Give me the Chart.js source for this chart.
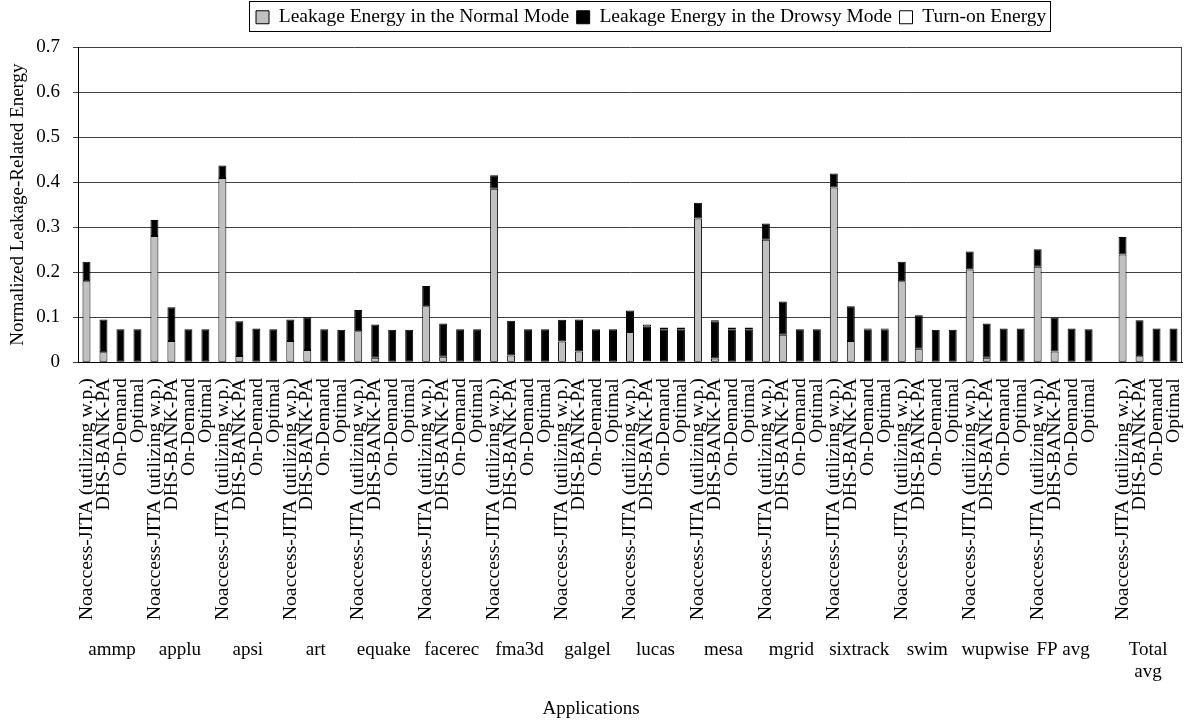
<!DOCTYPE html>
<html>
<head>
<meta charset="utf-8">
<title>Normalized Leakage-Related Energy</title>
<script src="https://cdn.jsdelivr.net/npm/chart.js@4.4.1/dist/chart.umd.min.js"></script>
<style>
  body { margin: 0; background: #fff; }
  canvas { display: block; }
</style>
</head>
<body>
<canvas id="chart" width="1189" height="722"></canvas>
<script>
// === DATA ===
const apps = ['ammp', 'applu', 'apsi', 'art', 'equake', 'facerec', 'fma3d', 'galgel',
  'lucas', 'mesa', 'mgrid', 'sixtrack', 'swim', 'wupwise', 'FP avg', ['Total', 'avg']];
const schemes = ['Noaccess-JITA (utilizing w.p.)', 'DHS-BANK-PA', 'On-Demand', 'Optimal'];
const seriesNames = ['Leakage Energy in the Normal Mode', 'Leakage Energy in the Drowsy Mode', 'Turn-on Energy'];

// four values per application, in the order of schemes
const normalMode = [
  0.180, 0.022, 0, 0,   // ammp
  0.280, 0.047, 0, 0,   // applu
  0.409, 0.014, 0, 0,   // apsi
  0.047, 0.027, 0, 0,   // art
  0.069, 0.010, 0, 0,   // equake
  0.124, 0.012, 0, 0,   // facerec
  0.385, 0.015, 0, 0,   // fma3d
  0.046, 0.024, 0, 0,   // galgel
  0.067, 0.002, 0, 0,   // lucas
  0.319, 0.008, 0, 0,   // mesa
  0.272, 0.061, 0, 0,   // mgrid
  0.388, 0.047, 0, 0,   // sixtrack
  0.180, 0.030, 0, 0,   // swim
  0.206, 0.010, 0, 0,   // wupwise
  0.212, 0.024, 0, 0,   // FP avg
  0.239, 0.013, 0, 0    // Total avg
];
const drowsyMode = [
  0.043, 0.073, 0.073, 0.073,
  0.036, 0.075, 0.073, 0.073,
  0.028, 0.077, 0.075, 0.073,
  0.048, 0.073, 0.073, 0.072,
  0.047, 0.074, 0.072, 0.072,
  0.045, 0.074, 0.073, 0.073,
  0.030, 0.077, 0.073, 0.073,
  0.048, 0.071, 0.073, 0.073,
  0.048, 0.077, 0.073, 0.073,
  0.035, 0.082, 0.073, 0.073,
  0.036, 0.074, 0.073, 0.073,
  0.031, 0.077, 0.073, 0.073,
  0.043, 0.074, 0.072, 0.072,
  0.040, 0.076, 0.075, 0.075,
  0.039, 0.075, 0.075, 0.073,
  0.039, 0.080, 0.075, 0.075
];
const turnOn = [
  0, 0, 0, 0,
  0, 0, 0, 0,
  0, 0, 0, 0,
  0, 0, 0, 0,
  0, 0, 0, 0,
  0, 0, 0, 0,
  0, 0, 0, 0,
  0, 0, 0, 0,
  0, 0.005, 0.004, 0.004,   // lucas
  0, 0.003, 0.004, 0.004,   // mesa
  0, 0, 0, 0,
  0, 0, 0.002, 0.002,       // sixtrack
  0, 0, 0, 0,
  0, 0, 0, 0,
  0, 0, 0, 0,
  0, 0, 0, 0
];

// === SLOTS (one per bar, plus an empty one before Total avg) ===
const slotLabels = [];
const slotNormal = [], slotDrowsy = [], slotTurnOn = [];
const groupCenters = [];

apps.forEach((app, g) => {
  if (g === apps.length - 1) {
    slotLabels.push('');
    slotNormal.push(null); slotDrowsy.push(null); slotTurnOn.push(null);
  }
  groupCenters.push(slotLabels.length + 1.5);
  schemes.forEach((s, k) => {
    slotLabels.push(s);
    slotNormal.push(normalMode[g * 4 + k]);
    slotDrowsy.push(drowsyMode[g * 4 + k]);
    slotTurnOn.push(turnOn[g * 4 + k]);
  });
});

// === PLUGINS ===
// legend sits at the very top, framed, first swatch at x=256
const legendFrame = {
  id: 'legendFrame',
  afterLayout(chart) {
    const lg = chart.legend;
    const pad = lg.options.labels.padding;
    const h = lg.height;
    lg.top = 0;
    lg.bottom = h;
    const start = (lg.left + pad + lg.right - lg.lineWidths[0]) / 2;
    const shift = 256 - start;
    lg.left += shift;
    lg.right += shift;
  },
  afterDraw(chart) {
    const hb = chart.legend.legendHitBoxes;
    if (!hb || !hb.length) return;
    const first = hb[0], last = hb[hb.length - 1];
    const x0 = Math.round(first.left - 7) + 0.5;
    const x1 = Math.round(last.left + last.width + 4) + 0.5;
    const y0 = Math.round(first.top - 7) + 0.5;
    const y1 = Math.round(first.top + first.height + 4) + 0.5;
    const ctx = chart.ctx;
    ctx.save();
    ctx.strokeStyle = '#000';
    ctx.lineWidth = 1;
    ctx.strokeRect(x0, y0, x1 - x0, y1 - y0);
    ctx.restore();
  }
};

// right edge of the plot area
const plotFrame = {
  id: 'plotFrame',
  afterDraw(chart) {
    const a = chart.chartArea;
    const ctx = chart.ctx;
    const x = Math.round(a.right) - 0.5;
    ctx.save();
    ctx.strokeStyle = '#404040';
    ctx.lineWidth = 1;
    ctx.beginPath();
    ctx.moveTo(x, a.top);
    ctx.lineTo(x, a.bottom);
    ctx.stroke();
    ctx.restore();
  }
};

// === CHART ===
Chart.defaults.font.family = "'Liberation Serif', 'Times New Roman', serif";
Chart.defaults.font.size = 19;
Chart.defaults.color = '#000';

const barStyle = { borderColor: '#000', borderWidth: 1, borderSkipped: false,
  categoryPercentage: 1, barPercentage: 0.47 };

new Chart(document.getElementById('chart'), {
  type: 'bar',
  data: {
    labels: slotLabels,
    datasets: [
      { label: seriesNames[0], data: slotNormal, backgroundColor: '#c0c0c0', ...barStyle },
      { label: seriesNames[1], data: slotDrowsy, backgroundColor: '#000000', ...barStyle },
      { label: seriesNames[2], data: slotTurnOn, backgroundColor: '#ffffff', ...barStyle }
    ]
  },
  options: {
    responsive: false,
    animation: false,
    layout: { padding: { left: 0, right: 7, top: 0, bottom: 0 } },
    plugins: {
      tooltip: { enabled: false },
      legend: {
        position: 'top',
        fullSize: false,
        labels: { boxWidth: 13, boxHeight: 13, padding: 7.5, font: { size: 19.5 } }
      },
      // x-axis title, centred on the whole figure like the original
      title: {
        display: true,
        position: 'bottom',
        text: 'Applications',
        color: '#000',
        font: { size: 19, weight: 'normal' },
        padding: { top: 0, bottom: 2 }
      }
    },
    scales: {
      x: {
        stacked: true,
        grid: { display: false, drawTicks: false },
        border: { display: true, color: '#000', width: 1 },
        ticks: { autoSkip: false, minRotation: 90, maxRotation: 90, padding: 16, font: { size: 19.8 } },
        afterFit(scale) { scale.height = 262; scale.paddingLeft = 0; scale.paddingRight = 0; }
      },
      x2: {
        type: 'linear',
        position: 'bottom',
        weight: 1,
        offset: false,
        min: -0.5,
        max: slotLabels.length - 0.5,
        grid: { display: false, drawTicks: false, offset: false },
        border: { display: false },
        afterBuildTicks(scale) { scale.ticks = groupCenters.map(v => ({ value: v })); },
        ticks: { autoSkip: false, maxRotation: 0, padding: 14, callback: (v, i) => apps[i] },
        afterFit(scale) { scale.height = 73; scale.paddingLeft = 0; scale.paddingRight = 0; }
      },
      y: {
        stacked: true,
        min: 0,
        max: 0.7,
        ticks: { stepSize: 0.1, padding: 13, callback: v => (v === 0 ? '0' : v.toFixed(1)) },
        grid: { color: '#404040', tickLength: 5 },
        border: { color: '#000' },
        title: { display: true, text: 'Normalized Leakage-Related Energy', padding: { top: 7, bottom: 0 } },
        afterFit(scale) { scale.width = 78; scale.paddingTop = 47; }
      }
    }
  },
  plugins: [legendFrame, plotFrame]
});
</script>
</body>
</html>
